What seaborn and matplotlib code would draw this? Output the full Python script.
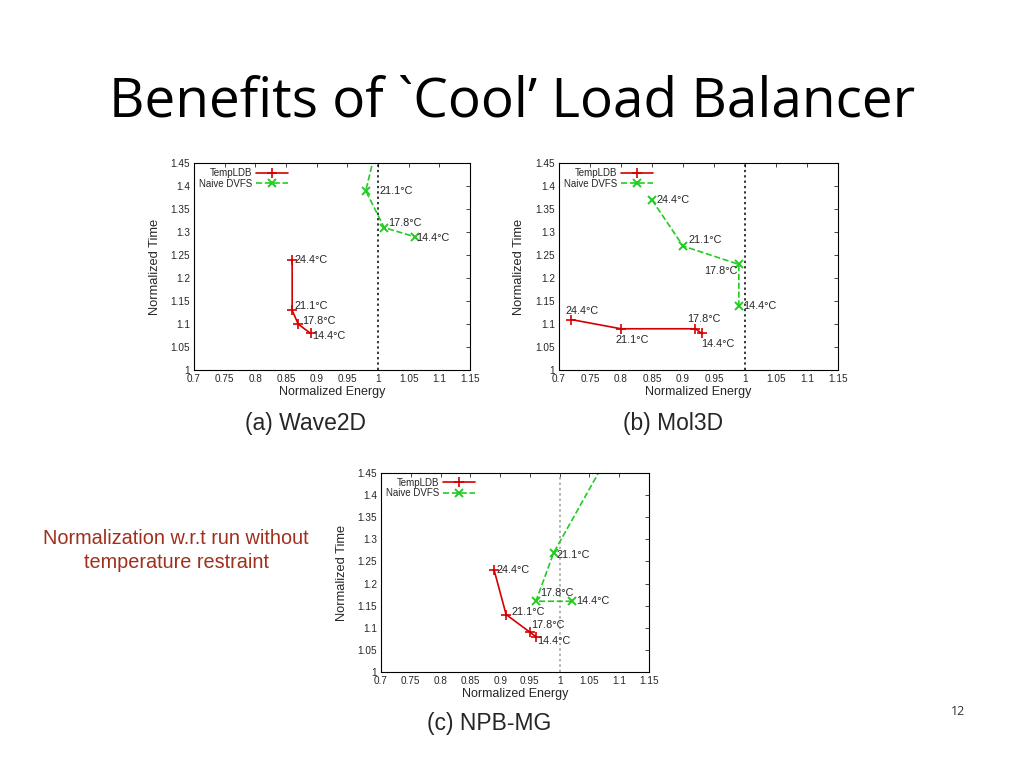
import matplotlib
matplotlib.use('Agg')
import matplotlib.pyplot as plt
import seaborn as sns
import numpy as np

# temperature thresholds for each point
temps = ['24.4°C', '21.1°C', '17.8°C', '14.4°C']

# (a) Wave2D
wave_ldb_energy = [0.86, 0.86, 0.87, 0.89]
wave_ldb_time = [1.24, 1.13, 1.10, 1.08]
wave_dvfs_energy = [1.00, 0.98, 1.01, 1.06]
wave_dvfs_time = [1.50, 1.39, 1.31, 1.29]

# (b) Mol3D
mol_ldb_energy = [0.72, 0.80, 0.92, 0.93]
mol_ldb_time = [1.11, 1.09, 1.09, 1.08]
mol_dvfs_energy = [0.85, 0.90, 0.99, 0.99]
mol_dvfs_time = [1.37, 1.27, 1.23, 1.14]

# (c) NPB-MG
npb_ldb_energy = [0.89, 0.91, 0.95, 0.96]
npb_ldb_time = [1.23, 1.13, 1.09, 1.08]
npb_dvfs_energy = [1.09, 0.99, 0.96, 1.02]
npb_dvfs_time = [1.51, 1.27, 1.16, 1.16]

xticks = [0.7, 0.75, 0.8, 0.85, 0.9, 0.95, 1, 1.05, 1.1, 1.15]
yticks = [1, 1.05, 1.1, 1.15, 1.2, 1.25, 1.3, 1.35, 1.4, 1.45]

sns.set_style('white')
plt.rcParams['font.family'] = ['Liberation Sans', 'DejaVu Sans']

fig = plt.figure(figsize=(10.24, 7.68), dpi=100)

RED = '#d40000'
GREEN = '#22cc22'


def draw_panel(rect, ldb_e, ldb_t, dv_e, dv_t, ldb_off, dv_off, vcolor):
    ax = fig.add_axes(rect)
    ax.axvline(1.0, color=vcolor, linestyle=(0, (1.5, 2)), linewidth=1.1, zorder=1)
    sns.lineplot(x=ldb_e, y=ldb_t, sort=False, estimator=None, ax=ax,
                 color=RED, marker='+', markersize=7, markeredgewidth=1.2,
                 markeredgecolor=RED, linewidth=1.2, label='TempLDB')
    sns.lineplot(x=dv_e, y=dv_t, sort=False, estimator=None, ax=ax,
                 color=GREEN, marker='x', markersize=5.5, markeredgewidth=1.4,
                 markeredgecolor=GREEN, linewidth=1.2, linestyle='--',
                 label='Naive DVFS')
    for xs, ys, offs in [(ldb_e, ldb_t, ldb_off), (dv_e, dv_t, dv_off)]:
        for x, y, t, o in zip(xs, ys, temps, offs):
            if o is None or y > 1.45:
                continue
            ax.annotate(t, (x, y), xytext=(o[0], o[1]), textcoords='offset points',
                        ha=o[2], va='center', fontsize=7.8)
    ax.set_xlim(0.7, 1.15)
    ax.set_ylim(1.0, 1.45)
    ax.set_xticks(xticks)
    ax.set_yticks(yticks)
    ax.set_xticklabels([f'{v:g}' for v in xticks])
    ax.set_yticklabels([f'{v:g}' for v in yticks])
    ax.tick_params(direction='in', length=3, width=0.6, labelsize=7.2,
                   top=True, right=True, pad=3)
    for s in ax.spines.values():
        s.set_linewidth(0.8)
        s.set_color('black')
    ax.set_xlabel('Normalized Energy', fontsize=9, labelpad=1)
    ax.set_ylabel('Normalized Time', fontsize=9.3, labelpad=7)
    leg = ax.legend(loc='upper left', markerfirst=False, frameon=False,
                    fontsize=7, handlelength=3.3, borderaxespad=0.1,
                    labelspacing=0.05, handletextpad=0.4)
    for txt in leg.get_texts():
        txt.set_ha('right')
    return ax


draw_panel([0.1895, 0.518, 0.2695, 0.2695],
           wave_ldb_energy, wave_ldb_time, wave_dvfs_energy, wave_dvfs_time,
           [(2, 0, 'left'), (2, 3, 'left'), (3, 2, 'left'), (1, -2, 'left')],
           [None, (10, 0, 'left'), (3, 3, 'left'), (1, -1, 'left')],
           'black')
draw_panel([0.5459, 0.518, 0.2725, 0.2695],
           mol_ldb_energy, mol_ldb_time, mol_dvfs_energy, mol_dvfs_time,
           [(-4, 6, 'left'), (-4, -8, 'left'), (-6, 7, 'left'), (0, -8, 'left')],
           [(3, 0, 'left'), (4, 4, 'left'), (-1, -5, 'right'), (3, 0, 'left')],
           'black')
draw_panel([0.3721, 0.125, 0.2617, 0.2591],
           npb_ldb_energy, npb_ldb_time, npb_dvfs_energy, npb_dvfs_time,
           [(2, 0, 'left'), (4, 2, 'left'), (1, 5, 'left'), (1, -3, 'left')],
           [None, (2, -2, 'left'), (3, 6, 'left'), (3, 0, 'left')],
           '#999999')

fig.text(0.5, 0.848, "Benefits of `Cool\u2019 Load Balancer", ha='center', va='baseline',
         fontsize=39.5, color='black', family=['Open Sans', 'DejaVu Sans'])
fig.text(0.298, 0.449, '(a) Wave2D', ha='center', va='center', fontsize=16.5)
fig.text(0.657, 0.449, '(b) Mol3D', ha='center', va='center', fontsize=16.5)
fig.text(0.478, 0.058, '(c) NPB-MG', ha='center', va='center', fontsize=16.5)
fig.text(0.172, 0.283, 'Normalization w.r.t run without\ntemperature restraint',
         ha='center', va='center', fontsize=14.3, color='#a0301c', linespacing=1.3)
fig.text(0.936, 0.073, '12', ha='center', va='center', fontsize=9,
         family=['Open Sans', 'DejaVu Sans'], color='#333333')

fig.savefig('out.png', dpi=100)
